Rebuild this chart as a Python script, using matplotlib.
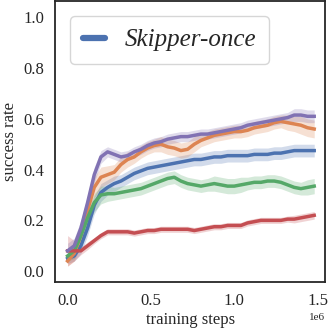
import numpy as np
import matplotlib
matplotlib.use("Agg")
import matplotlib.pyplot as plt
from matplotlib.lines import Line2D

# training steps (in units of 1e6)
steps = [0.00, 0.04, 0.08, 0.12, 0.16, 0.20, 0.24, 0.28, 0.32, 0.36,
         0.40, 0.44, 0.48, 0.52, 0.56, 0.60, 0.64, 0.68, 0.72, 0.76,
         0.80, 0.84, 0.88, 0.92, 0.96, 1.00, 1.04, 1.08, 1.12, 1.16,
         1.20, 1.24, 1.28, 1.32, 1.36, 1.40, 1.44, 1.48]

purple = [0.08, 0.10, 0.17, 0.27, 0.38, 0.45, 0.47, 0.46, 0.45, 0.455,
          0.47, 0.48, 0.495, 0.505, 0.51, 0.52, 0.525, 0.53, 0.53, 0.535,
          0.54, 0.54, 0.545, 0.55, 0.555, 0.56, 0.565, 0.575, 0.58, 0.585,
          0.59, 0.595, 0.60, 0.605, 0.615, 0.615, 0.61, 0.61]
purple_err = [0.03, 0.03, 0.03, 0.03, 0.03, 0.025, 0.02, 0.02, 0.02, 0.02,
              0.02, 0.02, 0.02, 0.02, 0.02, 0.02, 0.02, 0.02, 0.02, 0.02,
              0.02, 0.02, 0.02, 0.02, 0.02, 0.02, 0.02, 0.02, 0.02, 0.02,
              0.02, 0.02, 0.02, 0.02, 0.025, 0.025, 0.025, 0.025]

orange = [0.04, 0.07, 0.14, 0.24, 0.33, 0.37, 0.38, 0.39, 0.42, 0.44,
          0.45, 0.47, 0.485, 0.495, 0.50, 0.49, 0.485, 0.475, 0.48, 0.50,
          0.515, 0.525, 0.535, 0.54, 0.545, 0.55, 0.55, 0.555, 0.565, 0.57,
          0.575, 0.585, 0.59, 0.585, 0.58, 0.575, 0.565, 0.56]
orange_err = [0.02, 0.03, 0.04, 0.04, 0.04, 0.04, 0.035, 0.03, 0.03, 0.03,
              0.025, 0.025, 0.025, 0.025, 0.03, 0.03, 0.03, 0.03, 0.03, 0.03,
              0.025, 0.025, 0.025, 0.025, 0.025, 0.025, 0.025, 0.025, 0.025, 0.025,
              0.025, 0.025, 0.025, 0.03, 0.03, 0.035, 0.035, 0.035]

blue = [0.05, 0.06, 0.10, 0.17, 0.26, 0.31, 0.33, 0.345, 0.355, 0.37,
        0.385, 0.395, 0.405, 0.41, 0.415, 0.42, 0.425, 0.43, 0.435, 0.44,
        0.44, 0.445, 0.45, 0.45, 0.455, 0.455, 0.455, 0.455, 0.46, 0.46,
        0.46, 0.465, 0.465, 0.47, 0.475, 0.475, 0.475, 0.475]
blue_err = [0.02, 0.02, 0.03, 0.03, 0.035, 0.035, 0.03, 0.03, 0.025, 0.025,
            0.025, 0.025, 0.025, 0.025, 0.025, 0.025, 0.025, 0.025, 0.025, 0.025,
            0.025, 0.025, 0.025, 0.025, 0.025, 0.025, 0.025, 0.025, 0.025, 0.025,
            0.025, 0.025, 0.025, 0.025, 0.025, 0.025, 0.025, 0.025]

green = [0.06, 0.08, 0.14, 0.21, 0.27, 0.30, 0.305, 0.305, 0.31, 0.315,
         0.32, 0.325, 0.335, 0.345, 0.355, 0.365, 0.37, 0.355, 0.345, 0.34,
         0.335, 0.34, 0.345, 0.34, 0.335, 0.335, 0.34, 0.345, 0.35, 0.35,
         0.355, 0.355, 0.35, 0.34, 0.33, 0.325, 0.33, 0.335]
green_err = [0.02, 0.03, 0.03, 0.03, 0.035, 0.035, 0.03, 0.025, 0.025, 0.025,
             0.025, 0.025, 0.025, 0.025, 0.025, 0.025, 0.025, 0.025, 0.025, 0.025,
             0.025, 0.025, 0.03, 0.03, 0.03, 0.03, 0.03, 0.025, 0.025, 0.025,
             0.025, 0.025, 0.025, 0.025, 0.025, 0.025, 0.03, 0.03]

red = [0.08, 0.08, 0.08, 0.10, 0.12, 0.14, 0.155, 0.155, 0.155, 0.155,
       0.15, 0.155, 0.16, 0.16, 0.165, 0.165, 0.165, 0.165, 0.165, 0.16,
       0.165, 0.17, 0.175, 0.175, 0.18, 0.18, 0.18, 0.19, 0.195, 0.20,
       0.20, 0.20, 0.20, 0.205, 0.205, 0.21, 0.215, 0.22]
red_err = [0.06, 0.04, 0.015, 0.015, 0.012, 0.012, 0.012, 0.012, 0.012, 0.012,
           0.012, 0.012, 0.012, 0.012, 0.012, 0.012, 0.012, 0.012, 0.012, 0.012,
           0.012, 0.012, 0.012, 0.012, 0.012, 0.012, 0.012, 0.012, 0.012, 0.012,
           0.012, 0.012, 0.012, 0.012, 0.015, 0.015, 0.015, 0.015]

colors = {"blue": "#4C72B0", "orange": "#DD8452", "green": "#55A868",
          "red": "#C44E52", "purple": "#8172B3"}

plt.rcParams["font.family"] = ["Liberation Serif", "DejaVu Serif"]
plt.rcParams["text.color"] = "#262626"
plt.rcParams["axes.labelcolor"] = "#262626"
plt.rcParams["xtick.color"] = "#262626"
plt.rcParams["ytick.color"] = "#262626"

fig = plt.figure(figsize=(3.28, 3.35), dpi=100)
ax = fig.add_axes([0.168, 0.158, 0.823, 0.838])

x = np.array(steps) * 1e6
series = [("blue", blue, blue_err), ("orange", orange, orange_err),
          ("green", green, green_err), ("red", red, red_err),
          ("purple", purple, purple_err)]
for name, y, err in series:
    y = np.array(y)
    err = np.array(err)
    c = colors[name]
    ax.fill_between(x, y - err, y + err, color=c, alpha=0.25, lw=0)
    ax.plot(x, y, color=c, lw=2.5)

ax.set_xlim(-0.075e6, 1.545e6)
ax.set_ylim(-0.043, 1.063)
ax.set_xticks([0, 0.5e6, 1.0e6, 1.5e6])
ax.set_yticks([0.0, 0.2, 0.4, 0.6, 0.8, 1.0])
ax.ticklabel_format(axis="x", style="sci", scilimits=(6, 6))
ax.xaxis.get_offset_text().set_fontsize(8)
ax.tick_params(length=0, pad=8, labelsize=12)
for s in ax.spines.values():
    s.set_color("#262626")
    s.set_linewidth(1.3)

ax.set_xlabel("training steps", fontsize=12, labelpad=2)
ax.set_ylabel("success rate", fontsize=12, labelpad=4)

handle = Line2D([], [], color=colors["blue"], lw=4.5, solid_capstyle="round")
leg = ax.legend([handle], ["Skipper-once"], loc="upper left",
                prop={"style": "italic", "size": 18}, handlelength=0.9,
                borderaxespad=0.6, borderpad=0.5, fancybox=True)
leg.get_frame().set_edgecolor("#cccccc")

fig.savefig("out.png", dpi=100)
